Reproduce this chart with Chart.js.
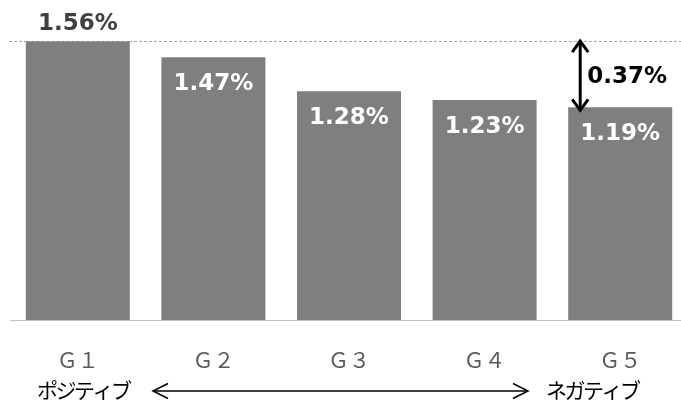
<!DOCTYPE html>
<html>
<head>
<meta charset="utf-8">
<script src="https://cdn.jsdelivr.net/npm/chart.js@4.4.1/dist/chart.umd.min.js"></script>
<style>
  html, body { margin: 0; padding: 0; background: #fff; overflow: hidden; }
  #wrap { width: 681px; height: 403px; overflow: hidden; position: relative; }
  canvas { display: block; }
</style>
</head>
<body>
<div id="wrap"><canvas id="c" width="690" height="403"></canvas></div>
<script>
const categories = ['Ｇ１', 'Ｇ２', 'Ｇ３', 'Ｇ４', 'Ｇ５'];
const values = [1.56, 1.47, 1.28, 1.23, 1.19];
const axisLeftLabel = 'ポジティブ';
const axisRightLabel = 'ネガティブ';

const BAR_COLOR = '#7f7f7f';

function arrowHead(ctx, tx, ty, dx, dy, len, half) {
  const px = -dy, py = dx;
  ctx.beginPath();
  ctx.moveTo(tx - dx * len + px * half, ty - dy * len + py * half);
  ctx.lineTo(tx, ty);
  ctx.lineTo(tx - dx * len - px * half, ty - dy * len - py * half);
  ctx.stroke();
}

const annotations = {
  id: 'annotations',
  afterDatasetsDraw(chart) {
    const ctx = chart.ctx;
    const meta = chart.getDatasetMeta(0);
    const ys = chart.scales.y;
    const maxV = Math.max(...values);
    const minLast = values[values.length - 1];
    const yMax = ys.getPixelForValue(maxV);
    ctx.save();
    // dashed reference line
    ctx.strokeStyle = '#a6a6a6';
    ctx.lineWidth = 1;
    ctx.setLineDash([3, 2]);
    ctx.beginPath();
    ctx.moveTo(9, Math.round(yMax) + 0.5);
    ctx.lineTo(chart.width, Math.round(yMax) + 0.5);
    ctx.stroke();
    ctx.setLineDash([]);

    // value labels
    ctx.font = 'bold 23px "DejaVu Sans"';
    ctx.textAlign = 'center';
    ctx.textBaseline = 'middle';
    meta.data.forEach((bar, i) => {
      const txt = values[i].toFixed(2) + '%';
      if (i === 0) {
        ctx.fillStyle = '#404040';
        ctx.fillText(txt, bar.x, bar.y - 17);
      } else {
        ctx.fillStyle = '#ffffff';
        ctx.fillText(txt, bar.x, bar.y + 27);
      }
    });

    // difference arrow
    const last = meta.data[meta.data.length - 1];
    const ax = last.x - 40;
    const yTop = yMax;
    const yBot = last.y + 3;
    ctx.strokeStyle = '#000';
    ctx.lineWidth = 3;
    ctx.lineCap = 'butt';
    ctx.beginPath();
    ctx.moveTo(ax, yTop + 1);
    ctx.lineTo(ax, yBot - 1);
    ctx.stroke();
    ctx.lineJoin = 'miter';
    arrowHead(ctx, ax, yTop, 0, -1, 11, 8);
    arrowHead(ctx, ax, yBot, 0, 1, 11, 8);
    ctx.fillStyle = '#000';
    ctx.textAlign = 'left';
    ctx.fillText((maxV - minLast).toFixed(2) + '%', ax + 7, (yTop + yBot) / 2 + 1);

    // bottom direction row
    ctx.font = '21px "Noto Sans CJK JP"';
    if ('letterSpacing' in ctx) ctx.letterSpacing = '-2.5px';
    ctx.fillStyle = '#000';
    ctx.textAlign = 'left';
    ctx.textBaseline = 'middle';
    ctx.fillText(axisLeftLabel, 37, 390);
    ctx.fillText(axisRightLabel, 546, 390);
    if ('letterSpacing' in ctx) ctx.letterSpacing = '0px';
    ctx.lineWidth = 1.5;
    ctx.beginPath();
    ctx.moveTo(153, 391);
    ctx.lineTo(528, 391);
    ctx.stroke();
    arrowHead(ctx, 153, 391, -1, 0, 15, 7.5);
    arrowHead(ctx, 528, 391, 1, 0, 15, 7.5);
    ctx.restore();
  }
};

new Chart(document.getElementById('c'), {
  type: 'bar',
  data: {
    labels: categories,
    datasets: [{
      data: values,
      backgroundColor: BAR_COLOR,
      borderWidth: 0,
      barPercentage: 1,
      categoryPercentage: 0.767
    }]
  },
  options: {
    responsive: false,
    animation: false,
    events: [],
    layout: { padding: { left: 10, right: 2, top: 0, bottom: 0 } },
    plugins: { legend: { display: false }, tooltip: { enabled: false } },
    scales: {
      x: {
        grid: { display: true, color: 'rgba(0,0,0,0)', drawTicks: false },
        border: { display: true, color: '#bfbfbf', width: 1 },
        ticks: {
          color: '#595959',
          font: { family: '"Noto Sans CJK JP"', size: 21 },
          padding: 27,
          maxRotation: 0
        },
        afterFit(s) { s.height = 83; }
      },
      y: {
        display: false,
        min: 0,
        max: 1.79
      }
    }
  },
  plugins: [annotations]
});
</script>
</body>
</html>
